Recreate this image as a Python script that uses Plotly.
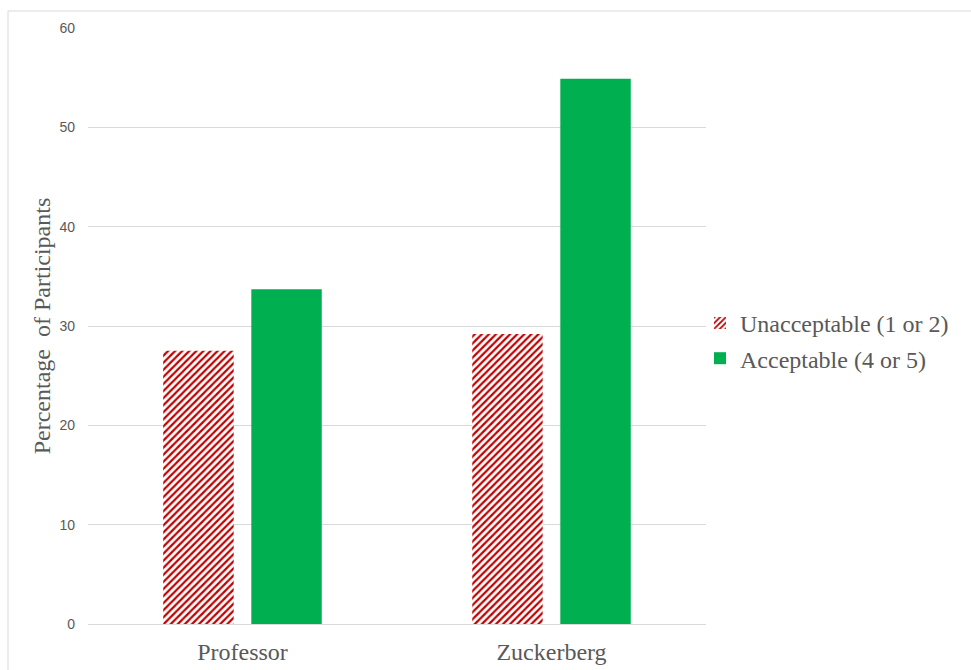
import plotly.graph_objects as go

categories = ["Professor", "Zuckerberg"]
unacceptable = [27.5, 29.2]
acceptable = [33.7, 54.9]
series_names = ["Unacceptable (1 or 2)", "Acceptable (4 or 5)"]
y_ticks = [0, 10, 20, 30, 40, 50, 60]

W, H = 971, 670
ml, mr, mt, mb = 88, 265, 28, 46
pw, ph = W - ml - mr, H - mt - mb

fig = go.Figure()
fig.add_trace(go.Bar(
    x=categories, y=unacceptable, name=series_names[0], legendgroup="a",
    marker=dict(color="white", line=dict(width=0),
                pattern=dict(shape="/", fgcolor="#C00000", bgcolor="white",
                             size=5, solidity=0.45, fillmode="replace", fgopacity=1)),
))
fig.add_trace(go.Bar(
    x=categories, y=acceptable, name=series_names[1], legendgroup="b",
    marker=dict(color="#00B050", line=dict(width=0)),
))

# outer border (in paper coords)
x0 = (8 - ml) / pw
y1 = 1 + (mt - 11) / ph
fig.add_shape(type="rect", xref="paper", yref="paper",
              x0=x0, x1=(W + 5 - ml) / pw, y0=-(mb + 5) / ph, y1=y1,
              line=dict(color="#d9d9d9", width=1), fillcolor="rgba(0,0,0,0)", layer="below")

fig.update_layout(
    width=W, height=H,
    margin=dict(l=ml, r=mr, t=mt, b=mb, autoexpand=False),
    paper_bgcolor="white", plot_bgcolor="white",
    barmode="group", bargap=0.43, bargroupgap=0.2,
    showlegend=True,
    legend=dict(x=-0.0, y=0.475, xref="paper", xanchor="left", yanchor="middle",
                font=dict(family="Liberation Serif", size=24, color="#595959"),
                bgcolor="rgba(0,0,0,0)", itemwidth=30, tracegroupgap=1),
    xaxis=dict(showgrid=False, showline=True, linecolor="#d9d9d9", linewidth=1,
               automargin=False,
               tickfont=dict(family="Liberation Serif", size=24, color="#595959"),
               ticks="", ticklabelstandoff=6),
    yaxis=dict(range=[0, 60], tickvals=y_ticks, showgrid=True, gridcolor="#d9d9d9",
               gridwidth=1, zeroline=False, showline=False, automargin=False,
               tickfont=dict(family="Liberation Sans", size=14, color="#595959"),
               ticklabelstandoff=12,
               title=dict(text="Percentage  of Participants", standoff=2,
                          font=dict(family="Liberation Serif", size=24, color="#595959"))),
)
fig.update_layout(legend_x=1 + (700 - (ml + pw)) / pw)

fig.write_html("out.html")
